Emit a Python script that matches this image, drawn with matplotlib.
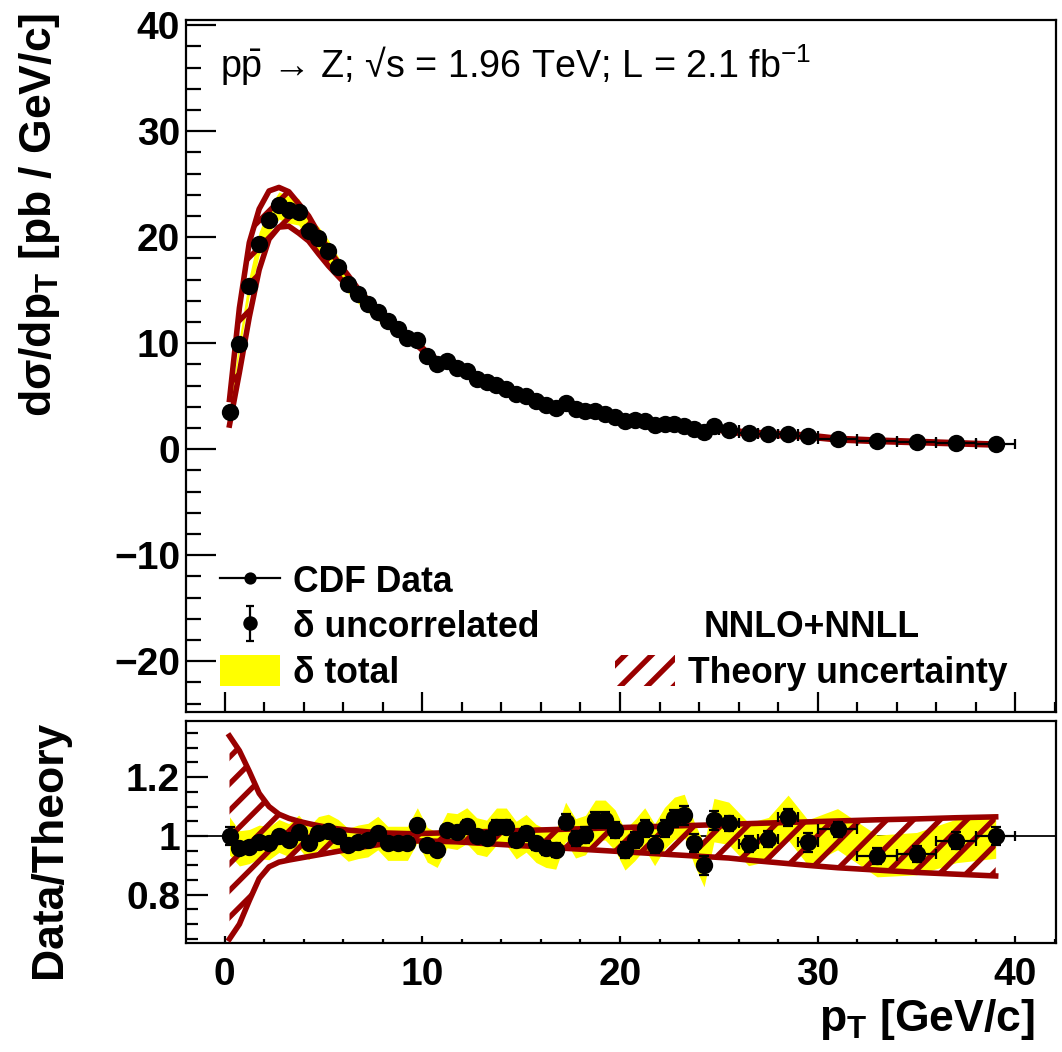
import numpy as np
import matplotlib.pyplot as plt
from matplotlib.patches import Patch
from matplotlib.lines import Line2D
from matplotlib.ticker import MultipleLocator, FormatStrFormatter

plt.rcParams['font.family'] = ['Liberation Sans', 'DejaVu Sans']
plt.rcParams['font.weight'] = 'bold'
plt.rcParams['mathtext.default'] = 'regular'
plt.rcParams['hatch.linewidth'] = 2.4

# pT bin edges [GeV/c]
pt_edges = [0, 0.5, 1, 1.5, 2, 2.5, 3, 3.5, 4, 4.5, 5, 5.5, 6, 6.5, 7, 7.5, 8, 8.5, 9, 9.5,
            10, 10.5, 11, 11.5, 12, 12.5, 13, 13.5, 14, 14.5, 15, 15.5, 16, 16.5, 17, 17.5,
            18, 18.5, 19, 19.5, 20, 20.5, 21, 21.5, 22, 22.5, 23, 23.5, 24, 24.5, 25,
            26, 27, 28, 29, 30, 32, 34, 36, 38, 40]

# CDF data dsigma/dpT [pb / GeV/c]
cdf_xsec = [3.5, 9.9, 15.4, 19.4, 21.6, 23.0, 22.6, 22.4, 20.6, 19.9,
            18.7, 17.2, 15.6, 14.6, 13.7, 12.9, 12.1, 11.3, 10.5, 10.3,
            8.8, 8.0, 8.3, 7.7, 7.4, 6.6, 6.3, 6.1, 5.65, 5.2,
            5.0, 4.55, 4.2, 3.9, 4.4, 3.8, 3.6, 3.6, 3.3, 3.0,
            2.7, 2.8, 2.65, 2.3, 2.4, 2.35, 2.2, 1.9, 1.6, 2.15,
            1.8, 1.5, 1.45, 1.45, 1.25, 1.0, 0.76, 0.66, 0.57, 0.45]

# data / theory
ratio = [1.0, 0.958, 0.964, 0.98, 0.975, 1.0, 0.986, 1.015, 0.975, 1.01,
         1.018, 1.0, 0.97, 0.98, 0.986, 1.01, 0.975, 0.975, 0.975, 1.037,
         0.97, 0.953, 1.02, 1.015, 1.035, 1.0, 0.992, 1.032, 1.032, 0.986,
         1.009, 0.975, 0.958, 0.953, 1.049, 0.992, 1.003, 1.054, 1.054, 1.02,
         0.953, 0.986, 1.026, 0.97, 1.026, 1.06, 1.07, 0.975, 0.90, 1.054,
         1.043, 0.972, 0.989, 1.063, 0.978, 1.023, 0.932, 0.94, 0.983, 1.0]

# relative uncertainties
unc_uncorr = [0.030, 0.015, 0.012, 0.011, 0.011, 0.011, 0.011, 0.011, 0.012, 0.012,
              0.012, 0.013, 0.013, 0.014, 0.014, 0.015, 0.015, 0.016, 0.016, 0.017,
              0.017, 0.018, 0.018, 0.019, 0.019, 0.020, 0.020, 0.021, 0.021, 0.022,
              0.022, 0.023, 0.024, 0.024, 0.025, 0.025, 0.026, 0.026, 0.027, 0.027,
              0.028, 0.028, 0.029, 0.029, 0.030, 0.030, 0.031, 0.031, 0.032, 0.032,
              0.026, 0.027, 0.028, 0.030, 0.031, 0.025, 0.026, 0.027, 0.029, 0.032]
unc_total = [0.065, 0.060, 0.058, 0.057, 0.056, 0.056, 0.056, 0.056, 0.056, 0.056,
             0.056, 0.056, 0.056, 0.057, 0.057, 0.057, 0.058, 0.058, 0.058, 0.059,
             0.059, 0.060, 0.060, 0.061, 0.061, 0.062, 0.062, 0.063, 0.063, 0.064,
             0.064, 0.065, 0.065, 0.066, 0.066, 0.067, 0.067, 0.068, 0.068, 0.069,
             0.069, 0.070, 0.070, 0.071, 0.071, 0.072, 0.072, 0.073, 0.073, 0.074,
             0.072, 0.073, 0.074, 0.076, 0.077, 0.070, 0.071, 0.072, 0.074, 0.076]

# NNLO+NNLL band edges relative to central theory
theory_hi = [1.34, 1.29, 1.22, 1.145, 1.10, 1.074, 1.06, 1.05, 1.042, 1.035,
             1.029, 1.024, 1.02, 1.017, 1.014, 1.012, 1.010, 1.009, 1.008, 1.008,
             1.009, 1.010, 1.011, 1.012, 1.013, 1.014, 1.015, 1.016, 1.017, 1.018,
             1.019, 1.020, 1.021, 1.022, 1.023, 1.024, 1.025, 1.026, 1.027, 1.028,
             1.029, 1.030, 1.031, 1.032, 1.033, 1.034, 1.035, 1.036, 1.037, 1.038,
             1.040, 1.042, 1.044, 1.046, 1.048, 1.051, 1.055, 1.058, 1.062, 1.065]
theory_lo = [0.65, 0.70, 0.78, 0.855, 0.895, 0.911, 0.918, 0.924, 0.93, 0.936,
             0.942, 0.948, 0.954, 0.96, 0.965, 0.97, 0.974, 0.978, 0.981, 0.983,
             0.983, 0.982, 0.981, 0.980, 0.978, 0.976, 0.974, 0.972, 0.970, 0.968,
             0.966, 0.964, 0.962, 0.960, 0.958, 0.956, 0.954, 0.952, 0.950, 0.948,
             0.946, 0.944, 0.942, 0.940, 0.938, 0.936, 0.934, 0.932, 0.930, 0.928,
             0.925, 0.918, 0.912, 0.906, 0.900, 0.892, 0.884, 0.876, 0.870, 0.864]

DARKRED = '#990000'

edges = np.array(pt_edges)
x = (edges[1:] + edges[:-1]) / 2
xe = np.diff(edges) / 2
cdf = np.array(cdf_xsec)
r = np.array(ratio)
eu = np.array(unc_uncorr)
et = np.array(unc_total)
thi = np.array(theory_hi)
tlo = np.array(theory_lo)
theory = cdf / r

W, H = 1062, 1052
fig = plt.figure(figsize=(W / 160, H / 160), dpi=160)
ax1 = fig.add_axes([186 / W, 1 - 712 / H, 870 / W, 692 / H])
ax2 = fig.add_axes([186 / W, 1 - 943 / H, 870 / W, 222 / H])

ebkw = dict(fmt='o', color='k', ms=6.8, elinewidth=1.0, capsize=2.4, capthick=1.0, zorder=4)

# top panel
ax1.fill_between(x, cdf * (1 - et), cdf * (1 + et), color='yellow', lw=0, zorder=1)
ax1.fill_between(x, theory * tlo, theory * thi, facecolor='none', edgecolor=DARKRED,
                 hatch='//', lw=0, zorder=2)
ax1.plot(x, theory * thi, color=DARKRED, lw=2.5, zorder=3)
ax1.plot(x, theory * tlo, color=DARKRED, lw=2.5, zorder=3)
ax1.errorbar(x, cdf, xerr=xe, yerr=cdf * eu, **ebkw)

# ratio panel
ax2.axhline(1, color='k', lw=0.8, zorder=0)
ax2.fill_between(x, r - et, r + et, color='yellow', lw=0, zorder=1)
ax2.fill_between(x, tlo, thi, facecolor='none', edgecolor=DARKRED, hatch='//', lw=0, zorder=2)
ax2.plot(x, thi, color=DARKRED, lw=2.5, zorder=3)
ax2.plot(x, tlo, color=DARKRED, lw=2.5, zorder=3)
ax2.errorbar(x, r, xerr=xe, yerr=eu, **ebkw)

# legends
h_data = Line2D([], [], color='k', lw=1.0, marker='o', ms=4.5)
h_unc = ax1.errorbar([np.nan], [np.nan], yerr=[1], fmt='o', color='k', ms=5.5,
                     elinewidth=1.0, capsize=2.0, capthick=1.0)
h_tot = Patch(facecolor='yellow', edgecolor='none')
h_th = Patch(facecolor='none', edgecolor=DARKRED, hatch='//', lw=0)

legkw = dict(frameon=False, prop={'weight': 'bold', 'size': 16}, handlelength=1.7,
             handleheight=0.95, handletextpad=0.35, labelspacing=0.28,
             borderpad=0, borderaxespad=0, loc='upper left')
leg1 = ax1.legend([h_data, h_unc, h_tot], ['CDF Data', 'δ uncorrelated', 'δ total'],
                  bbox_to_anchor=((220 - 186) / 870, (712 - 564) / 692), **legkw)
ax1.add_artist(leg1)
ax1.legend([h_th], ['Theory uncertainty'], title='NNLO+NNLL',
           title_fontproperties={'weight': 'bold', 'size': 16},
           bbox_to_anchor=((615 - 186) / 870, (712 - 610) / 692), **legkw)

ax1.text((220 - 186) / 870, 0.935, r'p$\bar{p}$ → Z; √s = 1.96 TeV; L = 2.1 fb$^{-1}$',
         transform=ax1.transAxes, fontsize=17, fontweight='normal', va='center')

# axes styling
for ax in (ax1, ax2):
    ax.set_xlim(-1.95, 42.05)
    for s in ax.spines.values():
        s.set_linewidth(1.0)
    ax.xaxis.set_major_locator(MultipleLocator(10))
    ax.xaxis.set_minor_locator(MultipleLocator(2))

ax1.set_ylim(-24.8, 40.5)
ax1.yaxis.set_major_locator(MultipleLocator(10))
ax1.yaxis.set_minor_locator(MultipleLocator(2))
ax1.tick_params(axis='y', which='both', direction='in', left=True, right=False,
                labelsize=17.5, pad=2.7, width=1.0)
ax1.tick_params(axis='y', which='major', length=13.5)
ax1.tick_params(axis='y', which='minor', length=6.75)
ax1.tick_params(axis='x', which='both', direction='in', top=False, labelbottom=False, width=1.0)
ax1.tick_params(axis='x', which='major', length=9)
ax1.tick_params(axis='x', which='minor', length=4.5)

ax2.set_ylim(0.636, 1.391)
ax2.yaxis.set_major_locator(MultipleLocator(0.2))
ax2.yaxis.set_minor_locator(MultipleLocator(0.05))
ax2.yaxis.set_major_formatter(FormatStrFormatter('%g'))
ax2.tick_params(axis='both', which='both', direction='in', left=True, right=False,
                top=False, labelsize=17.5, width=1.0)
ax2.tick_params(axis='y', which='major', length=9.75, pad=2.7)
ax2.tick_params(axis='y', which='minor', length=5.25)
ax2.tick_params(axis='x', which='major', length=3.3, pad=6.3)
ax2.tick_params(axis='x', which='minor', length=1.6)

ax1.set_ylabel('dσ/dp$_T$ [pb / GeV/c]', fontsize=20, fontweight='bold', loc='top')
ax1.yaxis.set_label_coords((62 - 186) / 870, 1.01)
ax2.set_ylabel('Data/Theory', fontsize=20, fontweight='bold', loc='top')
ax2.yaxis.set_label_coords((70 - 186) / 870, 1)
ax2.set_xlabel('p$_T$ [GeV/c]', fontsize=20, fontweight='bold', loc='right')
ax2.xaxis.set_label_coords((1035 - 186) / 870, -(997 - 943) / 222)

fig.savefig('out.png', dpi=160)
